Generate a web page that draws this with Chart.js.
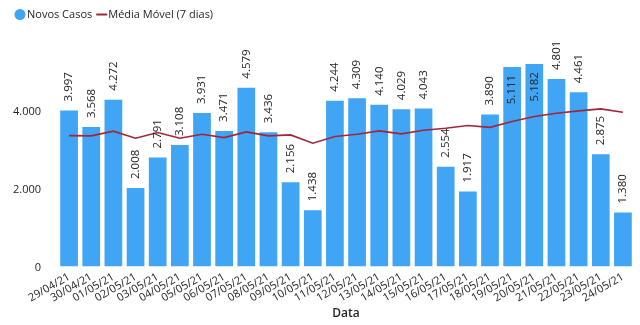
<!DOCTYPE html>
<html>
<head>
<meta charset="utf-8">
<script src="https://cdn.jsdelivr.net/npm/chart.js@4/dist/chart.umd.min.js"></script>
<style>
  html, body { margin: 0; padding: 0; background: #ffffff; }
  canvas { display: block; }
</style>
</head>
<body>
<canvas id="chart" width="640" height="325"></canvas>
<script>
// Daily new cases with the 7-day moving average
const dates = ['29/04/21', '30/04/21', '01/05/21', '02/05/21', '03/05/21', '04/05/21', '05/05/21',
  '06/05/21', '07/05/21', '08/05/21', '09/05/21', '10/05/21', '11/05/21', '12/05/21', '13/05/21',
  '14/05/21', '15/05/21', '16/05/21', '17/05/21', '18/05/21', '19/05/21', '20/05/21', '21/05/21',
  '22/05/21', '23/05/21', '24/05/21'];
const novosCasos = [3997, 3568, 4272, 2008, 2791, 3108, 3931, 3471, 4579, 3436, 2156, 1438, 4244,
  4309, 4140, 4029, 4043, 2554, 1917, 3890, 5111, 5182, 4801, 4461, 2875, 1380];
const mediaMovel = [3351, 3344, 3464, 3284, 3429, 3284, 3386, 3300, 3446, 3344, 3369, 3156, 3327,
  3386, 3472, 3395, 3489, 3540, 3609, 3562, 3711, 3839, 3925, 3985, 4036, 3951];
const yTicks = [0, 2000, 4000];
const seriesNames = ['Novos Casos', 'Média Móvel (7 dias)'];
const xTitle = 'Data';

const FONT = "'Open Sans', 'Noto Sans', sans-serif";
const INK = '#252423';
const BLUE = '#41A5F5';
const RED = '#A3253A';

// pt-BR thousands separator
function fmt(v) {
  return String(Math.round(v)).replace(/\B(?=(\d{3})+(?!\d))/g, '.');
}

// Vertical value labels over each bar; moved inside the bar when there is no room above
const barLabels = {
  id: 'barLabels',
  afterDraw(chart) {
    const meta = chart.getDatasetMeta(1);
    const ctx = chart.ctx;
    const top = chart.chartArea.top;
    meta.data.forEach((bar, i) => {
      const t = fmt(novosCasos[i]);
      ctx.save();
      ctx.font = '11.5px ' + FONT;
      const w = ctx.measureText(t).width;
      let start = bar.y - 9;
      if (start - w < top) start = bar.y + 8 + w;
      ctx.setTransform(0, -1, 1, 0, bar.x, start);
      ctx.fillStyle = INK;
      ctx.textBaseline = 'middle';
      ctx.textAlign = 'left';
      ctx.fillText(t, 0, 0);
      ctx.restore();
    });
  }
};

// Compact legend in the top-left corner
const topLegend = {
  id: 'topLegend',
  afterDraw(chart) {
    const ctx = chart.ctx;
    const y = 14.5;
    ctx.save();
    ctx.font = '11px ' + FONT;
    ctx.textBaseline = 'middle';
    ctx.textAlign = 'left';
    ctx.fillStyle = BLUE;
    ctx.beginPath();
    ctx.arc(20, y, 5.5, 0, Math.PI * 2);
    ctx.fill();
    ctx.fillStyle = INK;
    ctx.fillText(seriesNames[0], 27, y + 0.5);
    const x2 = 27 + ctx.measureText(seriesNames[0]).width + 4;
    ctx.strokeStyle = RED;
    ctx.lineWidth = 2;
    ctx.beginPath();
    ctx.moveTo(x2, y);
    ctx.lineTo(x2 + 11, y);
    ctx.stroke();
    ctx.fillText(seriesNames[1], x2 + 12, y + 0.5);
    ctx.restore();
  }
};

new Chart(document.getElementById('chart'), {
  data: {
    labels: dates,
    datasets: [
      {
        type: 'line',
        label: seriesNames[1],
        data: mediaMovel,
        borderColor: RED,
        borderWidth: 1.6,
        pointRadius: 0,
        tension: 0,
        order: 0
      },
      {
        type: 'bar',
        label: seriesNames[0],
        data: novosCasos,
        backgroundColor: BLUE,
        borderWidth: 0,
        barPercentage: 0.8,
        categoryPercentage: 1.0,
        order: 1
      }
    ]
  },
  options: {
    responsive: false,
    animation: false,
    devicePixelRatio: 1,
    layout: { padding: { top: 40, right: 6, left: 0, bottom: 0 } },
    plugins: {
      legend: { display: false },
      tooltip: { enabled: false }
    },
    scales: {
      x: {
        offset: true,
        grid: { display: false, drawTicks: false },
        border: { display: false },
        ticks: {
          autoSkip: false,
          minRotation: 30,
          maxRotation: 30,
          padding: 4,
          color: INK,
          font: { family: FONT, size: 11 }
        },
        title: {
          display: true,
          text: xTitle,
          color: INK,
          font: { family: FONT, size: 12, weight: '600' },
          padding: { top: 0, bottom: 4 }
        },
        afterFit(s) { s.height = 58.6; }
      },
      y: {
        min: 0,
        max: 5800,
        grid: { display: false, drawTicks: false },
        border: { display: false },
        ticks: {
          padding: 17,
          labelOffset: 1.5,
          color: INK,
          font: { family: FONT, size: 11 },
          callback: (v) => fmt(v)
        },
        afterBuildTicks(s) { s.ticks = yTicks.map(v => ({ value: v })); },
        afterFit(s) { s.width = 58; }
      }
    }
  },
  plugins: [barLabels, topLegend]
});
</script>
</body>
</html>
